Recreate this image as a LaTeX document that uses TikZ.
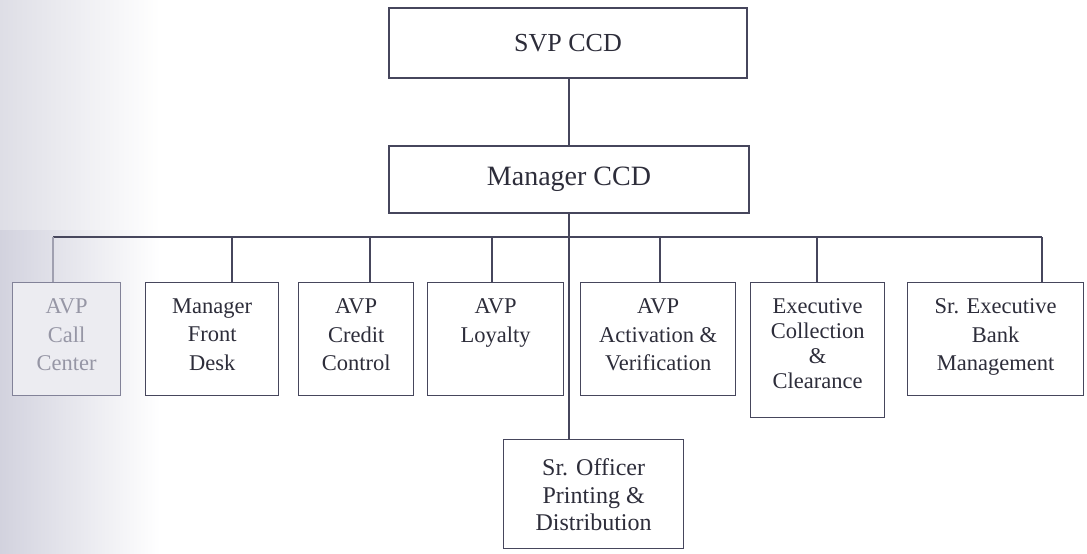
\documentclass[tikz,border=0pt]{standalone}
\usepackage{fontspec}
\setmainfont{Liberation Serif}
\begin{document}
\begin{tikzpicture}[x=1pt,y=-1pt,
  linec/.style={draw={rgb,255:red,70;green,70;blue,92}, line width=1.3pt},
  orgbox/.style={linec, fill=white, inner sep=0pt, anchor=north west,
    text={rgb,255:red,45;green,45;blue,58}},
  topbox/.style={linec, fill=white, inner sep=0pt, anchor=center,
    text={rgb,255:red,45;green,45;blue,58}},
  fadedbox/.style={draw={rgb,255:red,130;green,130;blue,152}, line width=1.3pt,
    fill={rgb,255:red,236;green,236;blue,241}, inner sep=0pt, anchor=north west,
    text={rgb,255:red,150;green,150;blue,165}},
  conn/.style={linec},
  fadedconn/.style={draw={rgb,255:red,160;green,160;blue,176}, line width=1.3pt}
]
\newcommand\rowtext[3]{\parbox[c][#2pt][t]{#1pt}{\centering\fontsize{22.5}{28.5}\selectfont\vspace*{16pt}#3}}
\useasboundingbox (0,0) rectangle (1087,554);
\fill[white] (0,0) rectangle (1087,554);
% scan shading at the left edge
\shade[left color={rgb,255:red,222;green,222;blue,230}, right color=white] (0,0) rectangle (160,230);
\shade[left color={rgb,255:red,210;green,210;blue,222}, right color=white] (0,230) rectangle (160,554);

% top boxes
\node[topbox, minimum width=358pt, minimum height=70pt, font=\fontsize{26}{30}\selectfont] (svp) at (568,43) {SVP CCD};
\node[topbox, minimum width=360pt, minimum height=67pt, font=\fontsize{28}{32}\selectfont] (mgr) at (569,179.5) {Manager CCD};

% second row
\node[fadedbox] (call) at (12,282) {\rowtext{108}{113}{AVP\\Call\\Center}};
\node[orgbox] (front) at (145,282) {\rowtext{133}{113}{Manager\\Front\\Desk}};
\node[orgbox] (credit) at (298,282) {\rowtext{115}{113}{AVP\\Credit\\Control}};
\node[orgbox] (loyal) at (427,282) {\rowtext{136}{113}{AVP\\Loyalty}};
\node[orgbox] (activ) at (580,282) {\rowtext{155}{113}{AVP\\Activation \&\\Verification}};
\node[orgbox] (exec) at (750,282) {\parbox[c][135pt][t]{134pt}{\centering\fontsize{22.5}{25}\selectfont\vspace*{16pt}Executive\\Collection\\\&\\Clearance}};
\node[orgbox] (srexec) at (907,282) {\rowtext{176}{113}{Sr. Executive\\Bank\\Management}};
\node[orgbox] (officer) at (503,439) {\parbox[c][109pt][t]{180pt}{\centering\fontsize{24}{27.5}\selectfont\vspace*{19pt}Sr. Officer\\Printing \&\\Distribution}};

% connector coordinates
\coordinate (spine) at (569,237);
\coordinate (dcall) at (53,237);
\coordinate (dfront) at (232,237);
\coordinate (dcredit) at (370,237);
\coordinate (dloyal) at (492,237);
\coordinate (dactiv) at (660,237);
\coordinate (dexec) at (817,237);
\coordinate (dsrexec) at (1042,237);

\draw[conn] (svp.south -| spine) -- (mgr.north -| spine);
\draw[conn] (mgr.south -| spine) -- (officer.north -| spine);
\draw[conn] (dcall) -- (dsrexec);
\draw[fadedconn] (dcall) -- (dcall |- call.north);
\draw[conn] (dfront) -- (dfront |- front.north);
\draw[conn] (dcredit) -- (dcredit |- credit.north);
\draw[conn] (dloyal) -- (dloyal |- loyal.north);
\draw[conn] (dactiv) -- (dactiv |- activ.north);
\draw[conn] (dexec) -- (dexec |- exec.north);
\draw[conn] (dsrexec) -- (dsrexec |- srexec.north);
\end{tikzpicture}
\end{document}
